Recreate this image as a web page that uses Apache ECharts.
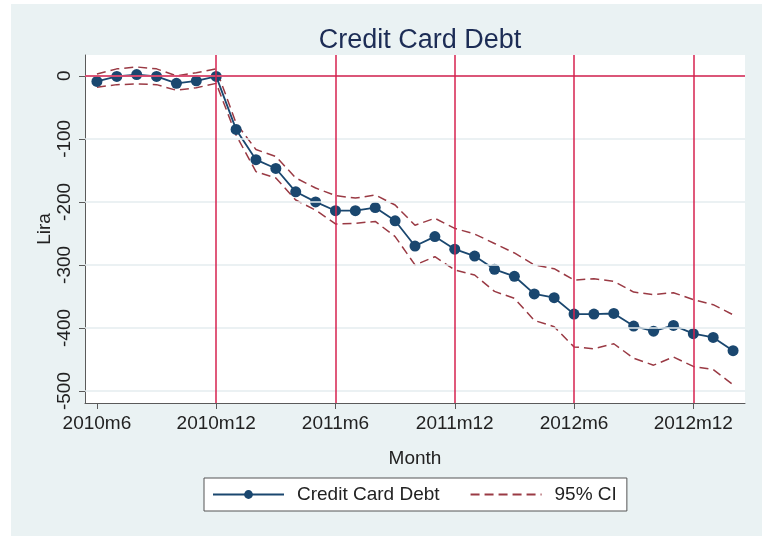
<!DOCTYPE html>
<html>
<head>
<meta charset="utf-8">
<script src="https://cdn.jsdelivr.net/npm/echarts@6/dist/echarts.min.js"></script>
<style>
  html, body { margin: 0; padding: 0; background: #fff; }
  #chart { width: 762px; height: 536px; }
</style>
</head>
<body>
<div id="chart"></div>
<script>
    // months 2010m6 .. 2013m2
    let months = ['2010m6', '2010m7', '2010m8', '2010m9', '2010m10', '2010m11', '2010m12',
        '2011m1', '2011m2', '2011m3', '2011m4', '2011m5', '2011m6', '2011m7', '2011m8', '2011m9',
        '2011m10', '2011m11', '2011m12', '2012m1', '2012m2', '2012m3', '2012m4', '2012m5', '2012m6',
        '2012m7', '2012m8', '2012m9', '2012m10', '2012m11', '2012m12', '2013m1', '2013m2']
    let debt = [-9, -1, 2, -1, -12, -8, -1, -85, -133, -147, -184, -200, -214, -214, -209, -230,
        -270, -255, -275, -286, -307, -318, -346, -352, -378, -378, -377, -397, -405, -396, -409, -415, -436]
    let ciUpper = [3, 11, 14, 11, 0, 5, 11, -75, -117, -128, -162, -178, -190, -194, -189, -205,
        -237, -226, -242, -251, -266, -281, -300, -306, -324, -322, -326, -343, -347, -344, -355, -363, -379]
    let ciLower = [-18, -14, -13, -14, -23, -19, -12, -94, -152, -162, -197, -213, -235, -234, -231, -255,
        -300, -287, -308, -316, -342, -353, -388, -398, -430, -433, -425, -448, -459, -446, -461, -466, -490]
    let xTicks = [0, 6, 12, 18, 24, 30]
    let yTicks = [0, -100, -200, -300, -400, -500]
    let refMonths = [6, 12, 18, 24, 30]

    let font = "'Liberation Sans', Arial, sans-serif"
    let toPairs = arr => arr.map((v, i) => [i, v])

    let markData = []
    yTicks.forEach(v => {
        markData.push({ yAxis: v, lineStyle: { color: '#e4edef', width: 1.5, type: 'solid' } })
    })
    refMonths.forEach(v => {
        markData.push({ xAxis: v })
    })
    markData.push({ yAxis: 0 })

    let chart = echarts.init(document.getElementById('chart'))
    chart.setOption({
        animation: false,
        backgroundColor: '#fff',
        textStyle: { fontFamily: font },
        graphic: [{
            type: 'rect',
            left: 11,
            top: 4,
            shape: { width: 751, height: 532 },
            style: { fill: '#eaf2f3' },
            z: -10
        }],
        title: {
            text: 'Credit Card Debt',
            left: 415,
            textAlign: 'center',
            top: 22,
            textStyle: {
                fontFamily: font,
                fontWeight: 'normal',
                fontSize: 27,
                color: '#1c2c55'
            }
        },
        legend: {
            data: [
                { name: 'Credit Card Debt' },
                { name: '95% CI', itemStyle: { color: 'transparent', borderWidth: 0, opacity: 0 } }
            ],
            left: 204,
            top: 478,
            padding: [7, 10, 7, 8],
            itemWidth: 71,
            itemHeight: 11,
            itemGap: 30,
            backgroundColor: '#fff',
            borderColor: '#555',
            borderWidth: 1,
            textStyle: { fontFamily: font, fontSize: 19, color: '#222', padding: [0, 0, 0, 8] }
        },
        grid: {
            left: 85,
            right: 17,
            top: 55,
            bottom: 133,
            show: true,
            backgroundColor: '#fff',
            borderWidth: 0
        },
        xAxis: {
            type: 'value',
            min: -0.6,
            max: 32.6,
            name: 'Month',
            nameLocation: 'middle',
            nameGap: 46,
            nameTextStyle: { fontFamily: font, fontSize: 19, color: '#222' },
            axisLine: { onZero: false, lineStyle: { color: '#5a5a5a', width: 1 } },
            axisTick: { length: 6, customValues: xTicks, lineStyle: { color: '#5a5a5a' } },
            axisLabel: {
                customValues: xTicks,
                formatter: v => months[Math.round(v)],
                fontSize: 19,
                color: '#222',
                margin: 11
            },
            splitLine: { show: false }
        },
        yAxis: {
            type: 'value',
            min: -519,
            max: 33,
            name: 'Lira',
            nameLocation: 'middle',
            nameGap: 31,
            nameMoveOverlap: false,
            nameTextStyle: { fontFamily: font, fontSize: 19, color: '#222' },
            axisLine: { show: true, onZero: false, lineStyle: { color: '#5a5a5a', width: 1 } },
            axisTick: { show: true, length: 6, customValues: yTicks, lineStyle: { color: '#5a5a5a' } },
            axisLabel: {
                customValues: yTicks,
                rotate: 90,
                fontSize: 19,
                color: '#222',
                margin: 11
            },
            splitLine: { show: false }
        },
        series: [
            {
                name: 'ref',
                type: 'line',
                data: [],
                z: 1,
                markLine: {
                    silent: true,
                    symbol: ['none', 'none'],
                    label: { show: false },
                    lineStyle: { color: '#d6224f', width: 1.5, type: 'solid' },
                    data: markData
                }
            },
            {
                name: '95% CI',
                type: 'line',
                data: toPairs(ciUpper),
                symbol: 'none',
                z: 2,
                lineStyle: { color: '#9a3a44', width: 1.5, type: [9, 5] },
                itemStyle: { color: '#9a3a44' }
            },
            {
                name: '95% CI',
                type: 'line',
                data: toPairs(ciLower),
                symbol: 'none',
                z: 2,
                lineStyle: { color: '#9a3a44', width: 1.5, type: [9, 5] },
                itemStyle: { color: '#9a3a44' }
            },
            {
                name: 'Credit Card Debt',
                type: 'line',
                data: toPairs(debt),
                symbol: 'circle',
                symbolSize: 11,
                showSymbol: true,
                z: 3,
                lineStyle: { color: '#1a476f', width: 1.8 },
                itemStyle: { color: '#1a476f' }
            }
        ]
    })
</script>
</body>
</html>
